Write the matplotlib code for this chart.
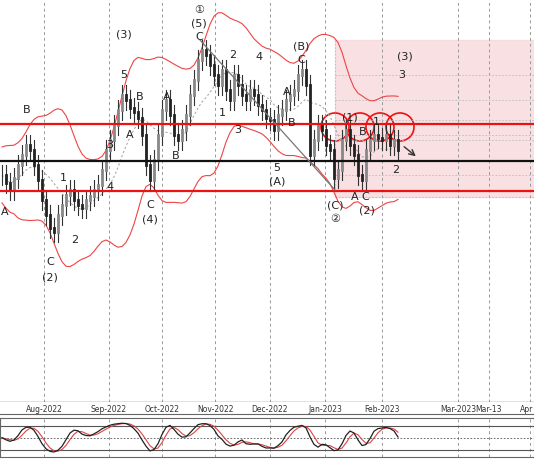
import numpy as np
import matplotlib
matplotlib.use("Agg")
import matplotlib.pyplot as plt
from matplotlib.patches import Rectangle, Ellipse

closes_px = [175,183,190,178,165,155,145,150,165,180,
             200,215,228,232,215,205,195,190,200,205,
             208,200,196,190,185,170,150,140,125,110,
             95,100,108,112,118,135,165,180,160,135,
             110,100,115,135,140,130,115,95,80,60,
             50,55,65,75,85,70,90,100,75,85,
             95,100,90,95,105,110,118,120,130,115,
             110,100,95,90,75,70,85,155,140,125,
             130,145,150,178,170,140,130,145,155,175,
             180,150,140,135,138,140,135,145,140,150]
spread = [10]*100
month_pos = [44,109,162,215,270,325,382,458,489,530]
month_labels = ["Aug-2022","Sep-2022","Oct-2022","Nov-2022","Dec-2022","Jan-2023","Feb-2023","Mar-2023","Mar-13","Apr"]
levels_red = [124,191]
level_black = 161

close = -np.array(closes_px, float)
sp = np.array(spread, float)
n = len(close)
xs = 2 + 4*np.arange(n)

def smooth(a, w):
    return np.array([a[max(0,i-w+1):i+1].mean() for i in range(len(a))])

fig = plt.figure(figsize=(5.34,4.62), dpi=100)
ax = fig.add_axes([0,0.13,1,0.87])
ax.set_xlim(0,534); ax.set_ylim(-402,0)
ax.axis('off')
for m in month_pos:
    ax.axvline(m, color='#999999', lw=0.7, ls=(0,(3,3)))
ax.add_patch(Rectangle((335,-197),200,157,color='#f7d9dd',alpha=0.8,zorder=0))
for yy in [75,100,120,135,140,175,197]:
    ax.plot([335,534],[-yy,-yy],color='#bbbbbb',lw=0.6,ls=(0,(2,2)))
ax.plot([335,335],[-40,-197],color='#bbbbbb',lw=0.6,ls=(0,(2,2)))

w = 10
mid = smooth(close, w)
sd = np.array([close[max(0,i-w+1):i+1].std() for i in range(n)])
up = smooth(mid + 1.6*sd + 28, 4)
dn = smooth(mid - 1.6*sd - 28, 4)
ax.plot(xs, mid, color='#aaaaaa', lw=0.8, ls=(0,(2,2)))
ax.plot(xs, up, color='#ee4444', lw=0.8)
ax.plot(xs, dn, color='#ee4444', lw=0.8)

opens = np.r_[close[0], close[:-1]]
for x,o,c,h in zip(xs,opens,close,sp):
    hi = max(o,c)+h; lo = min(o,c)-h
    ax.plot([x,x],[lo,hi],color='#333333',lw=0.8)
    ax.plot([x,x],[min(o,c),max(o,c)],color='#222222' if c<o else '#888888',lw=2)

for yy in levels_red:
    ax.axhline(-yy,color='#ee1111',lw=1.6)
ax.axhline(-level_black,color='#111111',lw=1.6)
ax.plot([200,335],[-40,-190],color='#777777',lw=0.9)
ax.annotate('',xy=(418,-158),xytext=(402,-145),arrowprops=dict(arrowstyle='->',color='#333333'))
for cx in [335,360,380,400]:
    ax.add_patch(Ellipse((cx,-127),28,28,fill=False,ec='#ee1111',lw=1.2))

labels = [(27,-110,"B"),(50,-262,"C"),(50,-278,"(2)"),(63,-178,"1"),(75,-240,"2"),(5,-212,"A"),
          (110,-145,"3"),(110,-187,"4"),(124,-35,"(3)"),(124,-75,"5"),(140,-97,"B"),(130,-135,"A"),
          (167,-97,"A"),(176,-156,"B"),(150,-205,"C"),(150,-220,"(4)"),
          (199,-10,"①"),(199,-24,"(5)"),(199,-37,"C"),(233,-55,"2"),(259,-57,"4"),(222,-113,"1"),
          (238,-130,"3"),(287,-92,"A"),(292,-123,"B"),(301,-47,"(B)"),(301,-60,"C"),
          (277,-168,"5"),(277,-182,"(A)"),(335,-206,"(C)"),(335,-219,"②"),
          (350,-118,"(1)"),(363,-132,"B"),(376,-122,"1"),(355,-197,"A"),(365,-197,"C"),
          (367,-211,"(2)"),(396,-170,"2"),(405,-57,"(3)"),(402,-75,"3")]
for x,y,t in labels:
    ax.text(x,y,t,ha='center',va='center',fontsize=8,color='#222222')

ax.plot([0,534],[-402,-402],color='#666666',lw=1)
for m,l in zip(month_pos,month_labels):
    if m < 520:
        fig.text(m/534,1-409/462,l,ha='center',va='center',fontsize=5.5,color='#333333')
    else:
        fig.text(0.999,1-409/462,l,ha='right',va='center',fontsize=5.5,color='#333333')
fig.add_artist(plt.Line2D([0,1],[1-414/462]*2,color='#666666',lw=0.8))

ax2 = fig.add_axes([0,0.01,1,0.085])
ax2.set_xlim(0,534); ax2.set_ylim(0,100)
ax2.set_xticks([]); ax2.set_yticks([])
for s in ax2.spines.values(): s.set_color('#666666')
for m in month_pos:
    ax2.axvline(m, color='#999999', lw=0.7, ls=(0,(3,3)))
ax2.axhline(80,color='#555555',lw=0.8); ax2.axhline(20,color='#555555',lw=0.8)
ax2.axhline(50,color='#555555',lw=0.6,ls=(0,(2,2)))
k=8
K=[]
for i in range(n):
    seg = close[max(0,i-k+1):i+1]
    lo,hi = seg.min()-15, seg.max()+15
    K.append(100*(close[i]-lo)/(hi-lo))
K=smooth(np.array(K),3)
D=smooth(K,3)
ax2.plot(xs,D,color='#dd4444',lw=0.8)
ax2.plot(xs,K,color='#222222',lw=0.9)
fig.savefig('out.png',dpi=100)
